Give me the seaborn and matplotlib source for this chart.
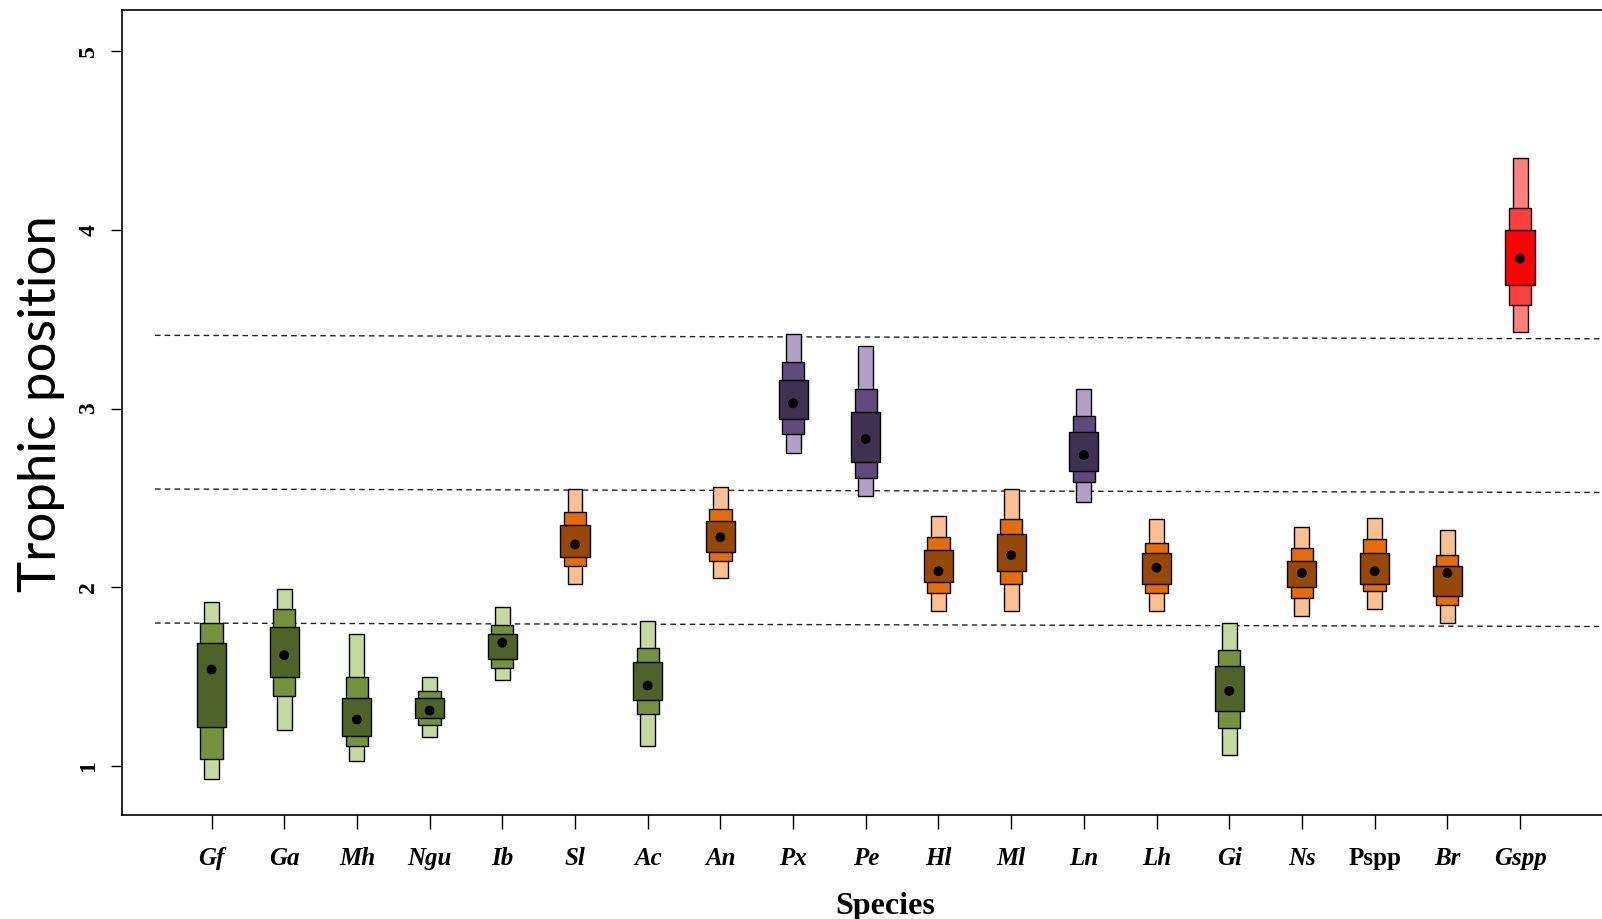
import matplotlib
matplotlib.use("Agg")
import matplotlib.pyplot as plt
import seaborn as sns
import pandas as pd
import numpy as np

# Species codes along the x axis
species = ["Gf", "Ga", "Mh", "Ngu", "Ib", "Sl", "Ac", "An", "Px", "Pe",
           "Hl", "Ml", "Ln", "Lh", "Gi", "Ns", "Pspp", "Br", "Gspp"]
group = ["green", "green", "green", "green", "green", "orange", "green", "orange",
         "purple", "purple", "orange", "orange", "purple", "orange", "green",
         "orange", "orange", "orange", "red"]

# Credible intervals (95, 75, 50 %) and mode of trophic position
lo95 = [0.93, 1.20, 1.03, 1.16, 1.48, 2.02, 1.11, 2.05, 2.75, 2.51, 1.87, 1.87, 2.48, 1.87, 1.06, 1.84, 1.88, 1.80, 3.43]
lo75 = [1.04, 1.39, 1.11, 1.23, 1.55, 2.12, 1.29, 2.15, 2.86, 2.61, 1.97, 2.02, 2.59, 1.97, 1.21, 1.94, 1.98, 1.90, 3.58]
lo50 = [1.22, 1.50, 1.17, 1.27, 1.60, 2.17, 1.37, 2.20, 2.94, 2.70, 2.03, 2.09, 2.65, 2.02, 1.31, 2.00, 2.02, 1.95, 3.69]
mode = [1.54, 1.62, 1.26, 1.31, 1.69, 2.24, 1.45, 2.28, 3.03, 2.83, 2.09, 2.18, 2.74, 2.11, 1.42, 2.08, 2.09, 2.08, 3.84]
hi50 = [1.69, 1.78, 1.38, 1.38, 1.74, 2.35, 1.58, 2.37, 3.16, 2.98, 2.21, 2.30, 2.87, 2.19, 1.56, 2.15, 2.19, 2.12, 4.00]
hi75 = [1.80, 1.88, 1.50, 1.42, 1.79, 2.42, 1.66, 2.44, 3.26, 3.11, 2.28, 2.38, 2.96, 2.25, 1.65, 2.22, 2.27, 2.18, 4.12]
hi95 = [1.92, 1.99, 1.74, 1.50, 1.89, 2.55, 1.81, 2.56, 3.42, 3.35, 2.40, 2.55, 3.11, 2.38, 1.80, 2.34, 2.39, 2.32, 4.40]

# Trophic level boundaries (start and end heights)
level_left = [3.41, 2.55, 1.80]
level_right = [3.39, 2.53, 1.78]

# Shades per group: 95 %, 75 %, 50 %
palette = {
    "green": ["#C5D99F", "#76923C", "#4F6228"],
    "orange": ["#FAC090", "#E46C0A", "#974806"],
    "purple": ["#B2A1C7", "#604A7B", "#3F3151"],
    "red": ["#FF8080", "#FF4040", "#FF0000"],
}
widths = [0.206, 0.307, 0.40]

df = pd.DataFrame({"species": species, "group": group, "lo95": lo95, "lo75": lo75,
                   "lo50": lo50, "mode": mode, "hi50": hi50, "hi75": hi75, "hi95": hi95})
df["x"] = np.arange(len(df))

sns.set_style("white")
plt.rcParams["font.family"] = ["Liberation Serif", "DejaVu Serif"]
for key in ["text.color", "axes.labelcolor", "xtick.color", "ytick.color"]:
    plt.rcParams[key] = "black"

fig = plt.figure(figsize=(16.02, 9.19), dpi=100)
ax = fig.add_axes([0.0759, 0.1132, 0.9528, 0.8758])

for k, (lo, hi) in enumerate([("lo95", "hi95"), ("lo75", "hi75"), ("lo50", "hi50")]):
    cols = [palette[g][k] for g in df["group"]]
    ax.bar(df["x"], df[hi] - df[lo], bottom=df[lo], width=widths[k], color=cols,
           edgecolor="black", linewidth=1.0, zorder=2 + k)

sns.scatterplot(data=df, x="x", y="mode", color="black", s=50, edgecolor="none",
                ax=ax, zorder=6, legend=False)

x_start, x_end = -0.777, 19.76
for yl, yr in zip(level_left, level_right):
    ax.plot([x_start, x_end], [yl, yr], color="#222222", linestyle=(0, (4, 3)),
            linewidth=1.0, zorder=1)

ax.set_xlim(-1.237, 19.76)
ax.set_ylim(0.726, 5.23)

ax.set_xticks(df["x"])
ax.set_xticklabels(species)
for lab in ax.get_xticklabels():
    lab.set_fontsize(18)
    lab.set_fontweight("bold")
    lab.set_fontstyle("normal" if lab.get_text() == "Pspp" else "italic")

ax.set_yticks([1, 2, 3, 4, 5])
ax.set_yticklabels(["1", "2", "3", "4", "5"], rotation=90, va="center",
                   fontsize=17, fontweight="bold")

ax.tick_params(axis="x", direction="out", length=10, width=1, pad=13, color="black",
               bottom=True)
ax.tick_params(axis="y", direction="out", length=8, width=1, pad=8, color="black",
               left=True)

ax.set_xlabel("Species", fontsize=23, fontweight="bold", labelpad=16)
ax.set_ylabel("Trophic position", fontsize=38, family=["Lato", "DejaVu Sans"],
              fontweight="normal", color="black")
ax.yaxis.set_label_coords(-0.037, 0.511)

for side in ["left", "bottom", "top", "right"]:
    ax.spines[side].set_visible(True)
    ax.spines[side].set_color("black")
    ax.spines[side].set_linewidth(1.2)

fig.savefig("out.png", dpi=100)
